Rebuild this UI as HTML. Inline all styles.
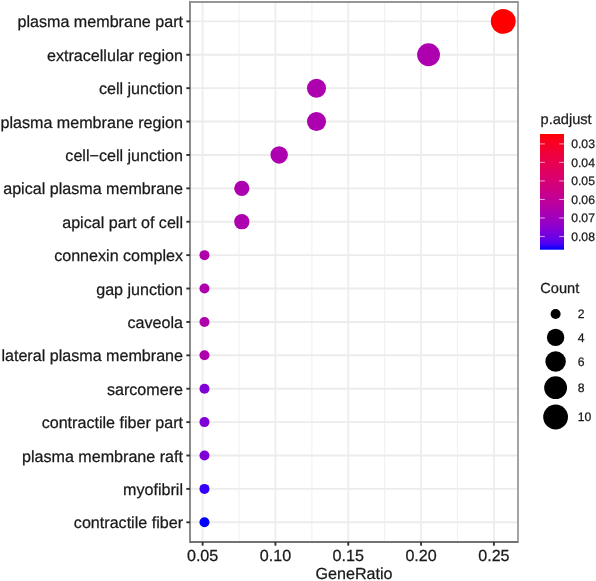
<!DOCTYPE html><html><head><meta charset="utf-8"><style>html,body{margin:0;padding:0;background:#fff;}svg{display:block;will-change:transform;}text{font-family:"Liberation Sans",sans-serif;text-rendering:geometricPrecision;fill:#1a1a1a;stroke:#1a1a1a;stroke-width:0.25px;}</style></head><body>
<svg width="596" height="581" viewBox="0 0 596 581">
<rect width="596" height="581" fill="#fff"/>
<line x1="239.01" y1="2.0" x2="239.01" y2="542.0" stroke="#f2f2f2" stroke-width="1.2"/>
<line x1="311.84" y1="2.0" x2="311.84" y2="542.0" stroke="#f2f2f2" stroke-width="1.2"/>
<line x1="384.66" y1="2.0" x2="384.66" y2="542.0" stroke="#f2f2f2" stroke-width="1.2"/>
<line x1="457.49" y1="2.0" x2="457.49" y2="542.0" stroke="#f2f2f2" stroke-width="1.2"/>
<line x1="202.60" y1="2.0" x2="202.60" y2="542.0" stroke="#eeeeee" stroke-width="1.9"/>
<line x1="275.43" y1="2.0" x2="275.43" y2="542.0" stroke="#eeeeee" stroke-width="1.9"/>
<line x1="348.25" y1="2.0" x2="348.25" y2="542.0" stroke="#eeeeee" stroke-width="1.9"/>
<line x1="421.08" y1="2.0" x2="421.08" y2="542.0" stroke="#eeeeee" stroke-width="1.9"/>
<line x1="493.90" y1="2.0" x2="493.90" y2="542.0" stroke="#eeeeee" stroke-width="1.9"/>
<line x1="190.0" y1="21.37" x2="518.0" y2="21.37" stroke="#ececec" stroke-width="1.9"/>
<line x1="190.0" y1="54.77" x2="518.0" y2="54.77" stroke="#ececec" stroke-width="1.9"/>
<line x1="190.0" y1="88.16" x2="518.0" y2="88.16" stroke="#ececec" stroke-width="1.9"/>
<line x1="190.0" y1="121.56" x2="518.0" y2="121.56" stroke="#ececec" stroke-width="1.9"/>
<line x1="190.0" y1="154.95" x2="518.0" y2="154.95" stroke="#ececec" stroke-width="1.9"/>
<line x1="190.0" y1="188.35" x2="518.0" y2="188.35" stroke="#ececec" stroke-width="1.9"/>
<line x1="190.0" y1="221.74" x2="518.0" y2="221.74" stroke="#ececec" stroke-width="1.9"/>
<line x1="190.0" y1="255.14" x2="518.0" y2="255.14" stroke="#ececec" stroke-width="1.9"/>
<line x1="190.0" y1="288.53" x2="518.0" y2="288.53" stroke="#ececec" stroke-width="1.9"/>
<line x1="190.0" y1="321.93" x2="518.0" y2="321.93" stroke="#ececec" stroke-width="1.9"/>
<line x1="190.0" y1="355.32" x2="518.0" y2="355.32" stroke="#ececec" stroke-width="1.9"/>
<line x1="190.0" y1="388.72" x2="518.0" y2="388.72" stroke="#ececec" stroke-width="1.9"/>
<line x1="190.0" y1="422.11" x2="518.0" y2="422.11" stroke="#ececec" stroke-width="1.9"/>
<line x1="190.0" y1="455.51" x2="518.0" y2="455.51" stroke="#ececec" stroke-width="1.9"/>
<line x1="190.0" y1="488.90" x2="518.0" y2="488.90" stroke="#ececec" stroke-width="1.9"/>
<line x1="190.0" y1="522.30" x2="518.0" y2="522.30" stroke="#ececec" stroke-width="1.9"/>
<circle cx="503.24" cy="21.37" r="12.40" fill="#ff0000"/>
<circle cx="428.54" cy="54.77" r="11.41" fill="#ad00af"/>
<circle cx="316.51" cy="88.16" r="9.53" fill="#ad00af"/>
<circle cx="316.51" cy="121.56" r="9.53" fill="#ad00af"/>
<circle cx="279.16" cy="154.95" r="8.70" fill="#ad00af"/>
<circle cx="241.81" cy="188.35" r="7.62" fill="#ad00af"/>
<circle cx="241.81" cy="221.74" r="7.62" fill="#ad00af"/>
<circle cx="204.47" cy="255.14" r="5.00" fill="#af00ac"/>
<circle cx="204.47" cy="288.53" r="5.00" fill="#af00ac"/>
<circle cx="204.47" cy="321.93" r="5.00" fill="#af00ac"/>
<circle cx="204.47" cy="355.32" r="5.00" fill="#af00ac"/>
<circle cx="204.47" cy="388.72" r="5.00" fill="#8000d8"/>
<circle cx="204.47" cy="422.11" r="5.00" fill="#8000d8"/>
<circle cx="204.47" cy="455.51" r="5.00" fill="#8000d8"/>
<circle cx="204.47" cy="488.90" r="5.00" fill="#3500f9"/>
<circle cx="204.47" cy="522.30" r="5.00" fill="#0000ff"/>
<line x1="190.0" y1="1.05" x2="190.0" y2="542.95" stroke="#858585" stroke-width="1.9"/>
<line x1="518.0" y1="1.05" x2="518.0" y2="542.95" stroke="#a0a0a0" stroke-width="1.9"/>
<line x1="190.0" y1="2.0" x2="518.0" y2="2.0" stroke="#969696" stroke-width="1.9"/>
<line x1="190.0" y1="542.0" x2="518.0" y2="542.0" stroke="#727272" stroke-width="1.9"/>
<line x1="186.33" y1="21.37" x2="190.0" y2="21.37" stroke="#333" stroke-width="1.9"/>
<text transform="translate(183.00,27.37) scale(1,1.0)" font-size="16.10" text-anchor="end">plasma membrane part</text>
<line x1="186.33" y1="54.77" x2="190.0" y2="54.77" stroke="#333" stroke-width="1.9"/>
<text transform="translate(183.00,60.77) scale(1,1.0)" font-size="16.10" text-anchor="end">extracellular region</text>
<line x1="186.33" y1="88.16" x2="190.0" y2="88.16" stroke="#333" stroke-width="1.9"/>
<text transform="translate(183.00,94.16) scale(1,1.0)" font-size="16.10" text-anchor="end">cell junction</text>
<line x1="186.33" y1="121.56" x2="190.0" y2="121.56" stroke="#333" stroke-width="1.9"/>
<text transform="translate(183.00,127.56) scale(1,1.0)" font-size="16.10" text-anchor="end">plasma membrane region</text>
<line x1="186.33" y1="154.95" x2="190.0" y2="154.95" stroke="#333" stroke-width="1.9"/>
<text transform="translate(183.00,160.95) scale(1,1.0)" font-size="16.10" text-anchor="end">cell−cell junction</text>
<line x1="186.33" y1="188.35" x2="190.0" y2="188.35" stroke="#333" stroke-width="1.9"/>
<text transform="translate(183.00,194.35) scale(1,1.0)" font-size="16.10" text-anchor="end">apical plasma membrane</text>
<line x1="186.33" y1="221.74" x2="190.0" y2="221.74" stroke="#333" stroke-width="1.9"/>
<text transform="translate(183.00,227.74) scale(1,1.0)" font-size="16.10" text-anchor="end">apical part of cell</text>
<line x1="186.33" y1="255.14" x2="190.0" y2="255.14" stroke="#333" stroke-width="1.9"/>
<text transform="translate(183.00,261.13) scale(1,1.0)" font-size="16.10" text-anchor="end">connexin complex</text>
<line x1="186.33" y1="288.53" x2="190.0" y2="288.53" stroke="#333" stroke-width="1.9"/>
<text transform="translate(183.00,294.53) scale(1,1.0)" font-size="16.10" text-anchor="end">gap junction</text>
<line x1="186.33" y1="321.93" x2="190.0" y2="321.93" stroke="#333" stroke-width="1.9"/>
<text transform="translate(183.00,327.93) scale(1,1.0)" font-size="16.10" text-anchor="end">caveola</text>
<line x1="186.33" y1="355.32" x2="190.0" y2="355.32" stroke="#333" stroke-width="1.9"/>
<text transform="translate(183.00,361.32) scale(1,1.0)" font-size="16.10" text-anchor="end">lateral plasma membrane</text>
<line x1="186.33" y1="388.72" x2="190.0" y2="388.72" stroke="#333" stroke-width="1.9"/>
<text transform="translate(183.00,394.72) scale(1,1.0)" font-size="16.10" text-anchor="end">sarcomere</text>
<line x1="186.33" y1="422.11" x2="190.0" y2="422.11" stroke="#333" stroke-width="1.9"/>
<text transform="translate(183.00,428.11) scale(1,1.0)" font-size="16.10" text-anchor="end">contractile fiber part</text>
<line x1="186.33" y1="455.51" x2="190.0" y2="455.51" stroke="#333" stroke-width="1.9"/>
<text transform="translate(183.00,461.51) scale(1,1.0)" font-size="16.10" text-anchor="end">plasma membrane raft</text>
<line x1="186.33" y1="488.90" x2="190.0" y2="488.90" stroke="#333" stroke-width="1.9"/>
<text transform="translate(183.00,494.90) scale(1,1.0)" font-size="16.10" text-anchor="end">myofibril</text>
<line x1="186.33" y1="522.30" x2="190.0" y2="522.30" stroke="#333" stroke-width="1.9"/>
<text transform="translate(183.00,528.30) scale(1,1.0)" font-size="16.10" text-anchor="end">contractile fiber</text>
<line x1="202.60" y1="542.0" x2="202.60" y2="545.67" stroke="#333" stroke-width="1.9"/>
<text transform="translate(202.60,560.60) scale(1,1.0)" font-size="16.10" text-anchor="middle">0.05</text>
<line x1="275.43" y1="542.0" x2="275.43" y2="545.67" stroke="#333" stroke-width="1.9"/>
<text transform="translate(275.43,560.60) scale(1,1.0)" font-size="16.10" text-anchor="middle">0.10</text>
<line x1="348.25" y1="542.0" x2="348.25" y2="545.67" stroke="#333" stroke-width="1.9"/>
<text transform="translate(348.25,560.60) scale(1,1.0)" font-size="16.10" text-anchor="middle">0.15</text>
<line x1="421.08" y1="542.0" x2="421.08" y2="545.67" stroke="#333" stroke-width="1.9"/>
<text transform="translate(421.08,560.60) scale(1,1.0)" font-size="16.10" text-anchor="middle">0.20</text>
<line x1="493.90" y1="542.0" x2="493.90" y2="545.67" stroke="#333" stroke-width="1.9"/>
<text transform="translate(493.90,560.60) scale(1,1.0)" font-size="16.10" text-anchor="middle">0.25</text>
<text transform="translate(354.00,579.40) scale(1,1.0)" font-size="16.10" text-anchor="middle">GeneRatio</text>
<text transform="translate(540.50,124.20) scale(1,1.0)" font-size="14.62" text-anchor="start">p.adjust</text>
<defs><linearGradient id="g" x1="0" y1="0" x2="0" y2="1">
<stop offset="0.000" stop-color="#ff0000"/>
<stop offset="0.050" stop-color="#fb001a"/>
<stop offset="0.100" stop-color="#f6002a"/>
<stop offset="0.150" stop-color="#f20037"/>
<stop offset="0.200" stop-color="#ed0044"/>
<stop offset="0.250" stop-color="#e80050"/>
<stop offset="0.300" stop-color="#e3005b"/>
<stop offset="0.350" stop-color="#dd0066"/>
<stop offset="0.400" stop-color="#d70072"/>
<stop offset="0.450" stop-color="#d1007d"/>
<stop offset="0.500" stop-color="#ca0088"/>
<stop offset="0.550" stop-color="#c20094"/>
<stop offset="0.600" stop-color="#ba009f"/>
<stop offset="0.650" stop-color="#b000ab"/>
<stop offset="0.700" stop-color="#a600b7"/>
<stop offset="0.750" stop-color="#9a00c3"/>
<stop offset="0.800" stop-color="#8d00ce"/>
<stop offset="0.850" stop-color="#7c00da"/>
<stop offset="0.900" stop-color="#6800e7"/>
<stop offset="0.950" stop-color="#4b00f3"/>
<stop offset="1.000" stop-color="#0000ff"/>
</linearGradient></defs>
<rect x="540" y="134.0" width="24" height="115.70" fill="url(#g)"/>
<line x1="540" y1="143.90" x2="544.8" y2="143.90" stroke="#fff" stroke-opacity="0.6" stroke-width="1.1"/>
<line x1="559.2" y1="143.90" x2="564" y2="143.90" stroke="#fff" stroke-opacity="0.6" stroke-width="1.1"/>
<text transform="translate(571.20,148.10) scale(1,1.0)" font-size="12.20" text-anchor="start">0.03</text>
<line x1="540" y1="162.42" x2="544.8" y2="162.42" stroke="#fff" stroke-opacity="0.6" stroke-width="1.1"/>
<line x1="559.2" y1="162.42" x2="564" y2="162.42" stroke="#fff" stroke-opacity="0.6" stroke-width="1.1"/>
<text transform="translate(571.20,166.62) scale(1,1.0)" font-size="12.20" text-anchor="start">0.04</text>
<line x1="540" y1="180.94" x2="544.8" y2="180.94" stroke="#fff" stroke-opacity="0.6" stroke-width="1.1"/>
<line x1="559.2" y1="180.94" x2="564" y2="180.94" stroke="#fff" stroke-opacity="0.6" stroke-width="1.1"/>
<text transform="translate(571.20,185.14) scale(1,1.0)" font-size="12.20" text-anchor="start">0.05</text>
<line x1="540" y1="199.46" x2="544.8" y2="199.46" stroke="#fff" stroke-opacity="0.6" stroke-width="1.1"/>
<line x1="559.2" y1="199.46" x2="564" y2="199.46" stroke="#fff" stroke-opacity="0.6" stroke-width="1.1"/>
<text transform="translate(571.20,203.66) scale(1,1.0)" font-size="12.20" text-anchor="start">0.06</text>
<line x1="540" y1="217.98" x2="544.8" y2="217.98" stroke="#fff" stroke-opacity="0.6" stroke-width="1.1"/>
<line x1="559.2" y1="217.98" x2="564" y2="217.98" stroke="#fff" stroke-opacity="0.6" stroke-width="1.1"/>
<text transform="translate(571.20,222.18) scale(1,1.0)" font-size="12.20" text-anchor="start">0.07</text>
<line x1="540" y1="236.50" x2="544.8" y2="236.50" stroke="#fff" stroke-opacity="0.6" stroke-width="1.1"/>
<line x1="559.2" y1="236.50" x2="564" y2="236.50" stroke="#fff" stroke-opacity="0.6" stroke-width="1.1"/>
<text transform="translate(571.20,240.70) scale(1,1.0)" font-size="12.20" text-anchor="start">0.08</text>
<text transform="translate(540.30,292.50) scale(1,1.0)" font-size="14.62" text-anchor="start">Count</text>
<circle cx="555.6" cy="314.0" r="5.00" fill="#000"/>
<text transform="translate(577.80,318.20) scale(1,1.0)" font-size="12.20" text-anchor="start">2</text>
<circle cx="555.6" cy="337.4" r="8.70" fill="#000"/>
<text transform="translate(577.80,341.60) scale(1,1.0)" font-size="12.20" text-anchor="start">4</text>
<circle cx="555.6" cy="361.4" r="10.23" fill="#000"/>
<text transform="translate(577.80,365.60) scale(1,1.0)" font-size="12.20" text-anchor="start">6</text>
<circle cx="555.6" cy="387.7" r="11.41" fill="#000"/>
<text transform="translate(577.80,391.90) scale(1,1.0)" font-size="12.20" text-anchor="start">8</text>
<circle cx="555.6" cy="417.0" r="12.40" fill="#000"/>
<text transform="translate(577.80,421.20) scale(1,1.0)" font-size="12.20" text-anchor="start">10</text>
</svg></body></html>
